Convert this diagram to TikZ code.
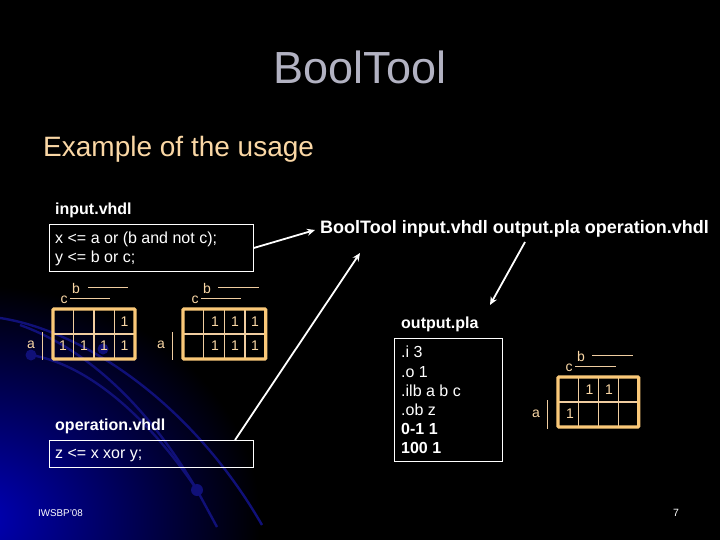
\documentclass[tikz,border=0pt]{standalone}
\usepackage{fontspec}
\setmainfont{Liberation Sans}
\usetikzlibrary{arrows.meta}
\definecolor{slidetitle}{RGB}{178,178,194}
\definecolor{slidepeach}{RGB}{250,215,165}
\definecolor{mapedge}{RGB}{250,200,120}
\definecolor{mapline}{RGB}{240,205,160}
\definecolor{arcblue}{RGB}{16,16,120}
\tikzset{
	textbox/.style={draw=white, line width=0.9pt, anchor=north west, inner sep=0pt},
	filename/.style={anchor=west, inner sep=0pt, text=white, font=\fontsize{16}{18}\selectfont\bfseries},
	boxtext/.style={anchor=west, inner sep=0pt, text=white, font=\fontsize{16}{18}\selectfont},
	maplabel/.style={inner sep=0pt, text=slidepeach, font=\fontsize{14}{15}\selectfont},
	mapone/.style={inner sep=0pt, text=slidepeach, font=\fontsize{14}{15}\selectfont},
	whitearrow/.style={draw=white, line width=1.8pt, -{Stealth[length=8pt,width=7pt]}},
	maprule/.style={draw=mapline, line width=0.8pt},
	bgarc/.style={draw=arcblue, line width=2.4pt}
}
% one karnaugh map: left, top, cell width, cell height
\def\kmapgrid(#1,#2,#3,#4){
	\foreach \col in {1,2,3}
		\draw[line width=1.4pt, color=mapline] (#1+\col*#3, #2) -- (#1+\col*#3, #2+2*#4);
	\draw[line width=1.4pt, color=mapline] (#1, #2+#4) -- (#1+4*#3, #2+#4);
	\draw[line width=3.2pt, color=mapedge, rounded corners=1pt] (#1, #2) rectangle (#1+4*#3, #2+2*#4);
}

\begin{document}
\begin{tikzpicture}[x=1pt, y=-1pt]
		%%%%% START %%%%%
		\useasboundingbox (0, 0) rectangle (720, 540);
		\fill[black] (0, 0) rectangle (720, 540);
		
		\begin{scope}
			\clip (0, 0) rectangle (720, 540);
			\shade[inner color={rgb,255:red,0;green,0;blue,185}, outer color=black] (-25, 520) ellipse (285 and 235);
			\draw[bgarc] (0, 318) .. controls (80, 330) and (190, 400) .. (262, 525);
			\draw[bgarc] (31, 355) .. controls (90, 365) and (150, 420) .. (197, 490);
			\draw[bgarc] (197, 490) -- (217, 527);
			\draw[bgarc] (20, 325) .. controls (90, 350) and (150, 410) .. (197, 490);
			\fill[arcblue] (31, 355) circle (5.5);
			\fill[arcblue] (103, 349) circle (5.5);
			\fill[arcblue] (197, 490) circle (6);
		\end{scope}
		
		\node[inner sep=0pt, text=slidetitle, font=\fontsize{45}{48}\selectfont] (title) at (360, 67) {BoolTool};
		\node[anchor=west, inner sep=0pt, text=slidepeach, font=\fontsize{28}{32}\selectfont] (subtitle) at (43, 149) {Example of the usage};
		
		\node[filename] (inputname) at (55, 210) {input.vhdl};
		\node[textbox, minimum width=204pt, minimum height=47pt] (inputbox) at (49, 224) {};
		\node[boxtext] (inputx) at (55, 239) {x <= a or (b and not c);};
		\node[boxtext] (inputy) at (55, 258) {y <= b or c;};
		
		\node[filename] (operationname) at (55, 426) {operation.vhdl};
		\node[textbox, minimum width=204pt, minimum height=27pt] (operationbox) at (49, 440) {};
		\node[boxtext] (operationz) at (55, 455) {z <= x xor y;};
		
		\node[anchor=east, inner sep=0pt, text=white, font=\fontsize{18}{20}\selectfont\bfseries] (command) at (709, 229) {BoolTool input.vhdl output.pla operation.vhdl};
		
		\node[filename] (outputname) at (401, 324) {output.pla};
		\node[textbox, minimum width=108pt, minimum height=123pt] (outputbox) at (394, 338) {};
		\node[boxtext] (plai) at (401, 352) {.i 3};
		\node[boxtext] (plao) at (401, 372) {.o 1};
		\node[boxtext] (plailb) at (401, 391) {.ilb a b c};
		\node[boxtext] (plaob) at (401, 410) {.ob z};
		\node[boxtext, font=\fontsize{16}{18}\selectfont\bfseries] (plaa) at (401, 429) {0-1 1};
		\node[boxtext, font=\fontsize{16}{18}\selectfont\bfseries] (plab) at (401, 448) {100 1};
		
		% connectors
		\coordinate (commandin) at (315, 230);
		\coordinate (commandout) at (360, 253);
		\coordinate (operationout) at (235, 440);
		\coordinate (commandleave) at (525, 242);
		\coordinate (outputin) at (490, 305);
		\draw[whitearrow] (inputbox.east) -- (commandin);
		\draw[whitearrow] (operationout) -- (commandout);
		\draw[whitearrow] (commandleave) -- (outputin);
		
		% first map
		\kmapgrid(53, 309, 20.5, 25)
		\node[maplabel] (firstb) at (76, 288) {b};
		\node[maplabel] (firstc) at (64, 300) {c};
		\node[maplabel] (firsta) at (31, 345) {a};
		\draw[maprule] (88, 287) -- (128, 287);
		\draw[maprule] (70, 298) -- (110, 298);
		\draw[maprule] (42, 332) -- (42, 360);
		\node[mapone] at (124.5, 321.5) {1};
		\foreach \x in {63, 84, 104, 124.5}
			\node[mapone] at (\x, 346) {1};
		
		% second map
		\kmapgrid(183, 309, 20.7, 25)
		\node[maplabel] (secondb) at (207, 288) {b};
		\node[maplabel] (secondc) at (195, 300) {c};
		\node[maplabel] (seconda) at (161, 345) {a};
		\draw[maprule] (218, 287) -- (259, 287);
		\draw[maprule] (201, 298) -- (241, 298);
		\draw[maprule] (172, 332) -- (172, 360);
		\foreach \x in {215, 235, 255} {
			\node[mapone] at (\x, 321.5) {1};
			\node[mapone] at (\x, 346) {1};
		}
		
		% result map
		\kmapgrid(558, 377, 20.2, 25)
		\node[maplabel] (thirdb) at (581, 356) {b};
		\node[maplabel] (thirdc) at (569, 368) {c};
		\node[maplabel] (thirda) at (536, 414) {a};
		\draw[maprule] (592, 355) -- (633, 355);
		\draw[maprule] (575, 366) -- (616, 366);
		\draw[maprule] (547, 400) -- (547, 429);
		\node[mapone] at (589.5, 390) {1};
		\node[mapone] at (609, 390) {1};
		\node[mapone] at (570, 414) {1};
		
		\node[anchor=west, inner sep=0pt, text=white, font=\fontsize{9.8}{11}\selectfont] (footer) at (38, 513) {IWSBP'08};
		\node[inner sep=0pt, text=white, font=\fontsize{10.5}{12}\selectfont] (pagenum) at (676, 513) {7};
		
		%%%%% END %%%%%
	\end{tikzpicture}
\end{document}
